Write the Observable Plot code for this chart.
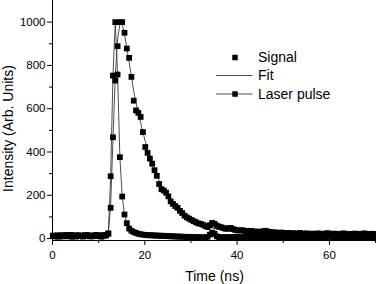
<!DOCTYPE html>
<html>
<head>
<meta charset="utf-8">
<script src="https://cdn.jsdelivr.net/npm/d3@7"></script>
<script src="https://cdn.jsdelivr.net/npm/@observablehq/plot@0.6"></script>
<style>
  html, body { margin: 0; padding: 0; background: white; }
  #wrap { position: relative; width: 376px; height: 284px; overflow: hidden; }
  #legend { position: absolute; left: 0; top: 0; pointer-events: none; }
</style>
</head>
<body>
<div id="wrap"></div>
<script>
// ---- data ----
const time = [
  0.1,0.6,1.1,1.6,2.1,2.6,3.1,3.6,4.1,4.6,
  5.1,5.6,6.1,6.6,7.1,7.6,8.1,8.6,9.1,9.6,
  10.1,10.6,11.1,11.6,12.1,12.6,13.1,13.6,14.1,14.6,
  15.1,15.6,16.1,16.6,17.1,17.6,18.1,18.6,19.1,19.6,
  20.1,20.6,21.1,21.6,22.1,22.6,23.1,23.6,24.1,24.6,
  25.1,25.6,26.1,26.6,27.1,27.6,28.1,28.6,29.1,29.6,
  30.1,30.6,31.1,31.6,32.1,32.6,33.1,33.6,34.1,34.6,
  35.1,35.6,36.1,36.6,37.1,37.6,38.1,38.6,39.1,39.6,
  40.1,40.6,41.1,41.6,42.1,42.6,43.1,43.6,44.1,44.6,
  45.1,45.6,46.1,46.6,47.1,47.6,48.1,48.6,49.1,49.6,
  50.1,50.6,51.1,51.6,52.1,52.6,53.1,53.6,54.1,54.6,
  55.1,55.6,56.1,56.6,57.1,57.6,58.1,58.6,59.1,59.6,
  60.1,60.6,61.1,61.6,62.1,62.6,63.1,63.6,64.1,64.6,
  65.1,65.6,66.1,66.6,67.1,67.6,68.1,68.6,69.1,69.6,
  70.1
];
const signal = [
  12,10,15,9,13,16,11,14,17,12,
  9,15,13,11,16,14,10,13,15,17,
  12,10,16,14,22,142,468,730,889,1000,
  1000,951,878,835,747,637,592,581,562,492,
  423,396,370,346,316,290,252,228,222,212,
  195,172,160,150,142,128,118,106,98,92,
  86,80,75,70,68,64,58,53,62,72,
  68,60,55,52,48,45,47,49,44,40,
  38,37,39,35,36,33,35,31,33,30,
  31,34,36,33,30,28,29,27,26,28,
  25,24,26,23,25,22,24,26,23,21,
  24,22,20,23,21,24,22,20,23,25,
  22,20,23,21,19,22,24,21,19,22,
  20,23,21,19,22,24,21,19,22,20,
  21
];
const laser = [
  14,11,9,15,12,10,16,13,8,12,
  15,11,14,9,13,16,12,10,14,11,
  15,9,13,17,24,288,753,1000,758,376,
  194,111,71,46,36,30,26,22,20,18,
  17,15,16,14,15,13,14,12,13,11,
  12,10,11,9,10,8,9,8,7,8,
  7,6,7,6,5,6,5,8,18,27,
  22,10,6,5,7,6,5,7,6,8,
  6,7,5,8,6,9,7,5,8,6,
  7,9,6,8,5,7,9,6,8,7,
  5,8,6,9,7,6,8,5,7,9,
  6,8,7,5,9,6,8,7,6,8,
  9,7,5,8,6,9,7,6,8,5,
  7,9,6,8,7,5,8,6,9,7,
  6
];
const fitTime = [
  11.6,12.1,12.6,13.1,13.6,14.1,14.6,15.1,15.6,16.1,
  16.6,17.1,17.6,18.1,18.6,19.1,19.6,20.1,20.6,21.1,
  21.6,22.1,22.6,23.1,23.6,24.1,24.6,25.1,25.6,26.1,
  26.6,27.1,27.6,28.1,28.6,29.1,29.6,30.1,
  31,32,33,34,35,36,37,38,39,40,
  42,44,46,48,50,53,56,60,65,70.1
];
const fitValue = [
  16,30,150,460,750,920,990,990,945,880,
  815,750,680,625,580,535,490,450,412,378,
  346,318,292,268,246,226,208,191,176,162,
  149,137,126,116,107,99,92,85,
  75,66,58,52,46,42,38,35,32,30,
  27,25,24,23,22,21,20,19,19,18
];
const xMajorTicks = [0, 20, 40, 60];
const xMinorTicks = [10, 30, 50, 70];
const yMajorTicks = [0, 200, 400, 600, 800, 1000];
const yMinorTicks = [100, 300, 500, 700, 900];
const xTitle = "Time (ns)";
const yTitle = "Intensity (Arb. Units)";
const legendItems = ["Signal", "Fit", "Laser pulse"];

// ---- tables built from the arrays ----
const signalData = time.map((t, i) => ({t, v: signal[i]}));
const laserData = time.map((t, i) => ({t, v: laser[i]}));
const fitData = fitTime.map((t, i) => ({t, v: fitValue[i]}));

const font = "'Liberation Sans', Arial, sans-serif";
const lineColor = "#3a3a3a";
const sq = 3.25;

const chart = Plot.plot({
  width: 376,
  height: 284,
  marginLeft: 52,
  marginRight: 0,
  marginTop: 0,
  marginBottom: 44,
  style: {fontFamily: font, color: "black", background: "white", overflow: "visible"},
  x: {domain: [0, 70.2]},
  y: {domain: [-9, 1100]},
  marks: [
    Plot.frame({anchor: "left", stroke: "black"}),
    Plot.frame({anchor: "bottom", stroke: "black"}),
    Plot.axisX({ticks: xMajorTicks, tickSize: 5, tickPadding: 5, fontSize: 11.5, tickFormat: d3.format("d"), label: null, stroke: "black"}),
    Plot.axisX({ticks: xMinorTicks, tickSize: 3, tickFormat: () => "", label: null, stroke: "black"}),
    Plot.axisY({ticks: yMajorTicks, tickSize: 5, tickPadding: 2, fontSize: 11.5, tickFormat: d3.format("d"), label: null, stroke: "black"}),
    Plot.axisY({ticks: yMinorTicks, tickSize: 3, tickFormat: () => "", label: null, stroke: "black"}),
    Plot.text([xTitle], {frameAnchor: "bottom", lineAnchor: "middle", dy: 36, fontSize: 14, fill: "black"}),
    Plot.text([yTitle], {frameAnchor: "left", textAnchor: "middle", lineAnchor: "middle", rotate: -90, dx: -44, dy: 8, fontSize: 14, fill: "black"}),
    Plot.line(fitData, {x: "t", y: "v", stroke: lineColor, strokeWidth: 0.9}),
    Plot.line(laserData, {x: "t", y: "v", stroke: lineColor, strokeWidth: 0.9}),
    Plot.dot(laserData, {x: "t", y: "v", symbol: "square", r: sq, fill: "black", stroke: null}),
    Plot.dot(signalData, {x: "t", y: "v", symbol: "square", r: sq, fill: "black", stroke: null})
  ]
});

const wrap = document.getElementById("wrap");
wrap.appendChild(chart);

// ---- legend (overlay) ----
const ns = "http://www.w3.org/2000/svg";
const lg = document.createElementNS(ns, "svg");
lg.setAttribute("id", "legend");
lg.setAttribute("width", 376);
lg.setAttribute("height", 284);
const rows = [57.5, 75.5, 94];
const side = 3.1 * Math.sqrt(Math.PI);
legendItems.forEach((name, i) => {
  const y = rows[i];
  if (name !== "Signal") {
    const l = document.createElementNS(ns, "line");
    l.setAttribute("x1", 216); l.setAttribute("x2", 252.5);
    l.setAttribute("y1", y); l.setAttribute("y2", y);
    l.setAttribute("stroke", lineColor); l.setAttribute("stroke-width", 0.9);
    lg.appendChild(l);
  }
  if (name !== "Fit") {
    const r = document.createElementNS(ns, "rect");
    r.setAttribute("x", 235 - side / 2); r.setAttribute("y", y - side / 2);
    r.setAttribute("width", side); r.setAttribute("height", side);
    r.setAttribute("fill", "black");
    lg.appendChild(r);
  }
  const t = document.createElementNS(ns, "text");
  t.setAttribute("x", 258); t.setAttribute("y", y + 4.8);
  t.setAttribute("font-family", font); t.setAttribute("font-size", 14);
  t.setAttribute("fill", "black");
  t.textContent = name;
  lg.appendChild(t);
});
wrap.appendChild(lg);
</script>
</body>
</html>
